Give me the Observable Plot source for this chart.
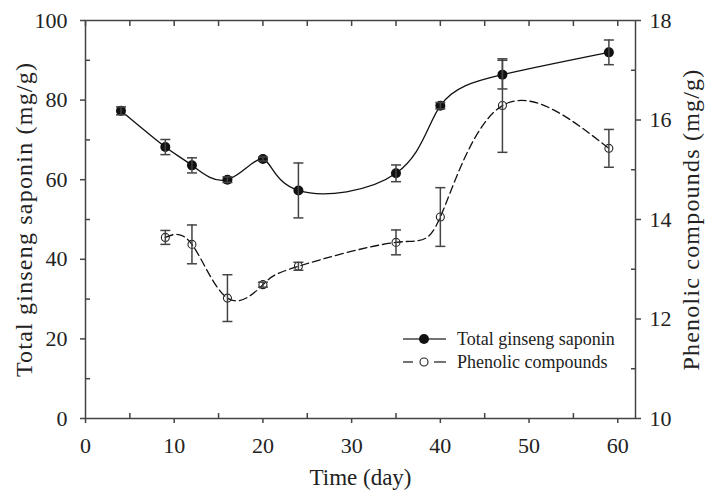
<!DOCTYPE html>
<html>
<head>
<meta charset="utf-8">
<script src="https://cdn.jsdelivr.net/npm/d3@7"></script>
<script src="https://cdn.jsdelivr.net/npm/@observablehq/plot@0.6"></script>
<style>
  body { margin: 0; background: #fff; }
  #chart { position: relative; width: 708px; height: 490px; font-family: "Liberation Serif", serif; }
  #legend { position: absolute; left: 0; top: 0; pointer-events: none; }
</style>
</head>
<body>
<div id="chart"></div>
<script>
// ---- data ----
const saponinDays = [4, 9, 12, 16, 20, 24, 35, 40, 47, 59];
const saponin     = [77.3, 68.2, 63.6, 60.0, 65.2, 57.3, 61.6, 78.6, 86.4, 92.0];
const saponinErr  = [1.0, 1.9, 1.9, 0.7, 0.5, 6.9, 2.1, 0.8, 3.6, 3.1];

const phenolicDays = [9, 12, 16, 20, 24, 35, 40, 47, 59];
const phenolic     = [13.64, 13.50, 12.42, 12.69, 13.06, 13.54, 14.05, 16.29, 15.43];
const phenolicErr  = [0.14, 0.39, 0.47, 0.05, 0.08, 0.25, 0.59, 0.94, 0.38];

const xMajor = [0, 10, 20, 30, 40, 50, 60];
const xMinor = [5, 15, 25, 35, 45, 55];
const yLeftMajor = [0, 20, 40, 60, 80, 100];
const yLeftMinor = [10, 30, 50, 70, 90];
const yRightMajor = [10, 12, 14, 16, 18];
const yRightMinor = [11, 13, 15, 17];

const seriesNames = ["Total ginseng saponin", "Phenolic compounds"];

// right axis (10..18) mapped onto the left scale (0..100)
const toLeft = v => (v - 10) * 12.5;
const fromLeft = y => 10 + y / 12.5;

const sap = saponinDays.map((d, i) => ({day: d, y: saponin[i], lo: saponin[i] - saponinErr[i], hi: saponin[i] + saponinErr[i]}));
const phe = phenolicDays.map((d, i) => ({day: d, y: toLeft(phenolic[i]), lo: toLeft(phenolic[i] - phenolicErr[i]), hi: toLeft(phenolic[i] + phenolicErr[i])}));

const capSymbol = {draw(ctx, size) { const w = 5; ctx.moveTo(-w, 0); ctx.lineTo(w, 0); }};

const axisColor = "#444";
const font = "Liberation Serif";

const chart = Plot.plot({
  width: 708,
  height: 490,
  marginLeft: 85,
  marginRight: 73,
  marginTop: 20,
  marginBottom: 72,
  style: {fontFamily: font, background: "white", overflow: "visible"},
  x: {domain: [0, 62]},
  y: {domain: [0, 100]},
  marks: [
    // frame + axes
    Plot.frame({stroke: axisColor, strokeWidth: 1.5}),
    Plot.axisX(xMajor, {anchor: "bottom", tickSize: 5, tickPadding: 14, fontSize: 22, stroke: axisColor, fill: "#222", strokeWidth: 1.5,
      label: "Time (day)", labelAnchor: "center", labelArrow: "none", labelOffset: 66}),
    Plot.axisX(xMinor, {anchor: "bottom", tickSize: -5, fill: "none", stroke: axisColor, strokeWidth: 1.5, label: null}),
    Plot.axisX(xMajor.concat(xMinor), {anchor: "top", tickSize: -5, fill: "none", stroke: axisColor, strokeWidth: 1.5, label: null}),
    Plot.axisY(yLeftMajor, {anchor: "left", tickSize: 5, tickPadding: 13, fontSize: 22, stroke: axisColor, fill: "#222", strokeWidth: 1.5,
      label: "Total ginseng saponin (mg/g)", labelAnchor: "center", labelArrow: "none", labelOffset: 71}),
    Plot.axisY(yLeftMinor, {anchor: "left", tickSize: -5, fill: "none", stroke: axisColor, strokeWidth: 1.5, label: null}),
    Plot.axisY(yRightMajor.map(toLeft), {anchor: "right", tickSize: 5, tickPadding: 9, fontSize: 22, stroke: axisColor, fill: "#222", strokeWidth: 1.5,
      tickFormat: y => String(Math.round(fromLeft(y))),
      label: "Phenolic compounds (mg/g)", labelAnchor: "center", labelArrow: "none", labelOffset: 63}),
    Plot.axisY(yRightMinor.map(toLeft), {anchor: "right", tickSize: -5, fill: "none", stroke: axisColor, strokeWidth: 1.5, label: null}),

    // curves
    Plot.line(sap, {x: "day", y: "y", curve: "natural", stroke: "#111", strokeWidth: 1.3}),
    Plot.line(phe, {x: "day", y: "y", curve: "natural", stroke: "#111", strokeWidth: 1.3, strokeDasharray: "8,4"}),

    // points
    Plot.dot(sap, {x: "day", y: "y", r: 5, fill: "#111", stroke: "none"}),
    Plot.dot(phe, {x: "day", y: "y", r: 4, fill: "none", stroke: "#222", strokeWidth: 1.1}),

    // error bars
    Plot.ruleX(sap, {x: "day", y1: "lo", y2: "hi", stroke: axisColor, strokeWidth: 1.5}),
    Plot.dot(sap, {x: "day", y: "lo", symbol: capSymbol, stroke: axisColor, strokeWidth: 1.5, r: 5}),
    Plot.dot(sap, {x: "day", y: "hi", symbol: capSymbol, stroke: axisColor, strokeWidth: 1.5, r: 5}),
    Plot.ruleX(phe, {x: "day", y1: "lo", y2: "hi", stroke: axisColor, strokeWidth: 1.5}),
    Plot.dot(phe, {x: "day", y: "lo", symbol: capSymbol, stroke: axisColor, strokeWidth: 1.5, r: 5}),
    Plot.dot(phe, {x: "day", y: "hi", symbol: capSymbol, stroke: axisColor, strokeWidth: 1.5, r: 5})
  ]
});

// axis label font sizes
chart.querySelectorAll("g[aria-label='x-axis label']").forEach(g => {
  g.setAttribute("font-size", "23");
  g.setAttribute("fill", "#222");
});
chart.querySelectorAll("g[aria-label='y-axis label']").forEach(g => {
  g.setAttribute("font-size", "24");
  g.setAttribute("letter-spacing", "1.2");
  g.setAttribute("fill", "#222");
});

const container = document.getElementById("chart");
container.appendChild(chart);

// legend (overlay inside the plot area)
const ns = "http://www.w3.org/2000/svg";
const leg = document.createElementNS(ns, "svg");
leg.setAttribute("id", "legend");
leg.setAttribute("width", 708);
leg.setAttribute("height", 490);
const rows = [
  {name: seriesNames[0], y: 339, filled: true},
  {name: seriesNames[1], y: 362, filled: false}
];
function el(tag, attrs) { const e = document.createElementNS(ns, tag); for (const k in attrs) e.setAttribute(k, attrs[k]); leg.appendChild(e); return e; }
rows.forEach(r => {
  if (r.filled) {
    el("line", {x1: 403, x2: 446, y1: r.y, y2: r.y, stroke: "#444", "stroke-width": 1.5});
    el("circle", {cx: 424, cy: r.y, r: 5, fill: "#111"});
  } else {
    el("line", {x1: 403, x2: 413, y1: r.y, y2: r.y, stroke: "#444", "stroke-width": 1.5});
    el("line", {x1: 434, x2: 446, y1: r.y, y2: r.y, stroke: "#444", "stroke-width": 1.5});
    el("circle", {cx: 424, cy: r.y, r: 4, fill: "none", stroke: "#222", "stroke-width": 1.1});
  }
  const t = el("text", {x: 457, y: r.y + 6, "font-size": 18, "font-family": font, fill: "#222"});
  t.textContent = r.name;
});
container.appendChild(leg);
</script>
</body>
</html>
